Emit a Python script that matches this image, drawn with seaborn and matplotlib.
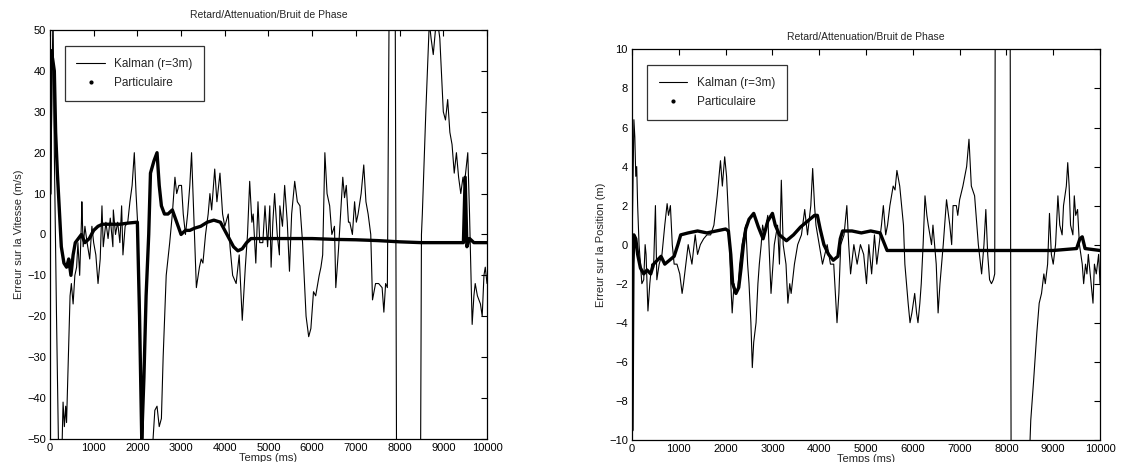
import matplotlib
matplotlib.use("Agg")
import matplotlib.pyplot as plt
import seaborn as sns
import pandas as pd
from matplotlib.lines import Line2D

# ---------------- data: left panel (velocity error, m/s) ----------------
vel_kalman_t = [0, 40, 70, 100, 150, 200, 270, 300, 330, 360, 380, 420, 460, 490, 530, 570, 610, 640, 680, 720, 730, 760,
                800, 850, 910, 960, 1000, 1050, 1100, 1150, 1190, 1220, 1280, 1330, 1380, 1440, 1450, 1500, 1550, 1600,
                1640, 1670, 1720, 1780, 1830, 1880, 1930, 1970, 2010, 2060, 2100, 2200, 2330, 2400, 2450, 2500, 2550,
                2590, 2660, 2740, 2800, 2860, 2900, 2950, 3010, 3050, 3100, 3150, 3200, 3240, 3290, 3350, 3420, 3460,
                3500, 3560, 3620, 3660, 3700, 3770, 3820, 3890, 3950, 4000, 4080, 4120, 4180, 4260, 4330, 4400, 4470,
                4520, 4570, 4620, 4650, 4710, 4760, 4800, 4870, 4920, 4980, 5030, 5060, 5100, 5140, 5200, 5250, 5260,
                5320, 5370, 5430, 5480, 5530, 5600, 5660, 5720, 5780, 5860, 5920, 5970, 6030, 6080, 6160, 6200, 6240,
                6290, 6340, 6400, 6450, 6510, 6540, 6600, 6650, 6700, 6740, 6780, 6830, 6860, 6920, 6970, 7010, 7050,
                7120, 7180, 7230, 7280, 7340, 7380, 7450, 7520, 7600, 7640, 7680, 7720, 7760, 7900, 7930, 8480, 8500,
                8520, 8600, 8680, 8720, 8770, 8820, 8870, 8920, 9000, 9050, 9100, 9150, 9200, 9250, 9300, 9350, 9400,
                9450, 9480, 9560, 9600, 9660, 9700, 9730, 9780, 9850, 9890, 9930, 9960, 10000]
vel_kalman_v = [0, 30, 55, 20, -20, -55, -55, -41, -47, -42, -46, -30, -15, -12, -17, -10, -8, -2, -10, 3, 8, -3,
                2, -2, -6, 2, -2, -5, -12, -6, 7, -3, 3, -1, 4, -3, 6, 0, 3, -2,
                7, -5, 2, 3, 8, 12, 20, 10, 2, -20, -55, -55, -55, -43, -42, -47, -45,
                -30, -10, -2, 5, 14, 10, 12, 12, 5, 0, 5, 12, 20, 5, -13, -8, -6,
                -7, 0, 5, 10, 6, 16, 8, 15, 5, 2, 5, -3, -10, -12, -5, -21, -8,
                0, 13, 3, 5, -7, 8, -2, -2, 7, -3, 7, -8, 3, 10, 0, -5, 7,
                2, 12, 3, -9, 5, 13, 8, 7, -2, -20, -25, -23, -14, -15, -10, -8, -5,
                20, 10, 7, 0, 2, -13, -4, 5, 14, 9, 12, 3, 3, 0, 8, 3, 5,
                10, 17, 8, 5, 0, -16, -12, -12, -13, -19, -12, -13, 55, 55, -55, -55, 0,
                5, 30, 52, 48, 44, 50, 52, 48, 30, 28, 33, 25, 22, 15, 20, 14, 10,
                14, 12, 20, 5, -22, -15, -12, -15, -17, -20, -10, -8, -12]

vel_part_t = [0, 20, 60, 100, 130, 170, 220, 260, 320, 380, 430, 480, 530, 580, 650, 720, 800, 900, 1000, 1100,
              1200, 1400, 1600, 1800, 2000, 2050, 2100, 2150, 2200, 2260, 2300, 2380, 2450, 2500, 2550, 2620, 2700,
              2800, 2900, 3000, 3100, 3200, 3300, 3450, 3600, 3750, 3900, 4000, 4100, 4200, 4300, 4400, 4500, 4600,
              4800, 5000, 5500, 6000, 6500, 7000, 7500, 8000, 8500, 9000, 9460, 9500, 9540, 9600, 9700, 10000]
vel_part_v = [10, 45, 43, 40, 25, 15, 5, -3, -7, -8, -6, -10, -5, -2, -1, 0, -2, -1, 1, 2,
              2.5, 2.5, 2.5, 2.8, 3, -20, -50, -35, -15, 0, 15, 18, 20, 12, 7, 5, 5,
              6, 3, 0, 1, 1, 1.5, 2, 3, 3.5, 3, 1, -1, -3, -4, -3.5, -2, -1,
              -1, -1, -1, -1, -1.2, -1.3, -1.5, -1.8, -2, -2, -2, 14, -3, -1, -2, -2]

# ---------------- data: right panel (position error, m) ----------------
pos_kalman_t = [0, 20, 40, 60, 80, 100, 120, 150, 180, 210, 250, 280, 300, 340, 380, 420, 460, 500, 530, 580, 640,
                700, 750, 780, 820, 860, 900, 960, 1020, 1070, 1100, 1150, 1200, 1280, 1350, 1400, 1460, 1530, 1600,
                1680, 1750, 1820, 1890, 1930, 1980, 2020, 2070, 2110, 2140, 2180, 2210, 2260, 2300, 2350, 2430, 2470,
                2500, 2540, 2570, 2600, 2650, 2690, 2720, 2760, 2790, 2830, 2900, 2970, 3040, 3110, 3150, 3190, 3230,
                3290, 3330, 3370, 3400, 3470, 3540, 3620, 3690, 3750, 3820, 3860, 3900, 3930, 4000, 4070, 4170, 4240,
                4310, 4380, 4420, 4460, 4530, 4590, 4630, 4670, 4740, 4810, 4880, 4950, 5010, 5060, 5120, 5180, 5230,
                5280, 5330, 5370, 5420, 5460, 5510, 5580, 5620, 5660, 5720, 5760, 5800, 5830, 5900, 5940, 5980, 6010,
                6040, 6080, 6110, 6150, 6180, 6220, 6260, 6300, 6330, 6400, 6430, 6500, 6540, 6580, 6650, 6720, 6790,
                6830, 6860, 6930, 6960, 7000, 7070, 7150, 7200, 7250, 7320, 7400, 7470, 7520, 7560, 7600, 7640, 7680,
                7720, 7750, 7760, 8080, 8100, 8490, 8520, 8580, 8650, 8700, 8750, 8800, 8830, 8880, 8920, 8960, 9000,
                9050, 9100, 9140, 9190, 9220, 9280, 9310, 9340, 9370, 9420, 9450, 9480, 9520, 9560, 9620, 9650, 9690,
                9720, 9750, 9810, 9850, 9880, 9920, 9970, 10000]
pos_kalman_v = [0, 3, 6.4, 5.5, 3.5, 4, 2, 0, -1, -2, -1.8, 0, -0.5, -3.4, -2, -1, -1.2, 2, -1.8, -1, -0.5,
                1, 2.1, 1.5, 2, 0, -1, -1, -1.5, -2.5, -2, -1, 0, -1, 0.5, -0.5, 0, 0.3, 0.5,
                0.5, 1, 2.5, 4.3, 3, 4.5, 3.5, 1, -2, -3.5, -2, -2.5, -2.3, -1, 0, 1, -1,
                -2, -4, -6.3, -5, -4, -2, -1, 0, 1, 0.5, 1.5, -2.5, 0, 1, -1, 3.3, 0,
                -1, -3, -2, -2.5, -1, 0, 0.5, 1.8, 0.5, 2, 3.9, 2, 1, 0, -1, 0, -1,
                -1, -4, -2.5, 0, 0.5, 2, 0, -1.5, 0, -1, 0, -0.5, -2, 0, -1.5, 0.5, -1,
                0, 1, 2, 0.5, 1, 2, 3, 2.8, 3.8, 3, 2, 1, -1, -3, -4, -3.5, -3,
                -2.5, -3.5, -4, -3, -2, 0, 2.5, 1.5, 1, 0, 1, -1, -3.5, -2, 0, 2.3, 1,
                0, 2, 2, 1.5, 2.3, 3, 4, 5.4, 3, 2.5, 0, -1.5, 0, 1.8, -0.5, -1.8, -2,
                -1.8, -1.5, 11, 11, -11, -11, -9, -7, -4.5, -3, -2.5, -1.5, -2, -1, 1.6, -0.5, -1,
                0, 2.5, 1, 0.5, 2, 3, 4.2, 3, 1, 0.5, 2.5, 1.5, 1.8, 0, -1, -2, -1,
                -1.5, -0.5, -2, -3, -1, -1.5, -0.5, -2]

pos_part_t = [0, 10, 20, 40, 80, 120, 180, 250, 320, 400, 460, 540, 620, 700, 800, 900, 980, 1040, 1200, 1400,
              1600, 1800, 2000, 2060, 2110, 2150, 2220, 2280, 2330, 2380, 2430, 2500, 2600, 2700, 2800, 2900, 3000,
              3060, 3150, 3300, 3450, 3600, 3750, 3900, 3960, 4020, 4100, 4200, 4300, 4400, 4450, 4500, 4700, 4900,
              5100, 5300, 5400, 5450, 6000, 7000, 8000, 9000, 9500, 9570, 9620, 9680, 10000]
pos_part_v = [-9.5, -5, -1, 0.5, 0.3, -0.5, -1.2, -1.5, -1.3, -1.5, -1, -0.8, -0.6, -1, -0.8, -0.6, 0, 0.5, 0.6, 0.7,
              0.6, 0.7, 0.8, 0.7, -0.5, -2, -2.5, -2.2, -1.2, 0, 0.8, 1.3, 1.6, 0.9, 0.3, 1.2, 1.6,
              1.0, 0.5, 0.2, 0.5, 0.9, 1.2, 1.5, 1.5, 0.8, 0, -0.5, -0.8, -0.6, 0.3, 0.7, 0.7, 0.6,
              0.7, 0.6, 0, -0.3, -0.3, -0.3, -0.3, -0.3, -0.2, 0.3, 0.4, -0.2, -0.3]

x_ticks = [0, 1000, 2000, 3000, 4000, 5000, 6000, 7000, 8000, 9000, 10000]
vel_yticks = [-50, -40, -30, -20, -10, 0, 10, 20, 30, 40, 50]
pos_yticks = [-10, -8, -6, -4, -2, 0, 2, 4, 6, 8, 10]

title_text = "Retard/Attenuation/Bruit de Phase"
xlabel_text = "Temps (ms)"
labels = ["Kalman (r=3m)", "Particulaire"]

# ---------------- drawing ----------------
sns.set_theme(style="white")
plt.rcParams["font.family"] = ["Liberation Sans", "DejaVu Sans"]

fig = plt.figure(figsize=(11.25, 4.62), dpi=100)
ax1 = fig.add_axes([0.0444, 0.050, 0.3885, 0.885])
ax2 = fig.add_axes([0.5618, 0.048, 0.416, 0.845])

panels = [
    (ax1, vel_kalman_t, vel_kalman_v, vel_part_t, vel_part_v, vel_yticks, "Erreur sur la Vitesse (m/s)", 9),
    (ax2, pos_kalman_t, pos_kalman_v, pos_part_t, pos_part_v, pos_yticks, "Erreur sur la Position (m)", 7),
]

for ax, kt, kv, pt, pv, yt, ylab, tpad in panels:
    dk = pd.DataFrame({"t": kt, "v": kv})
    dp = pd.DataFrame({"t": pt, "v": pv})
    sns.lineplot(data=dk, x="t", y="v", ax=ax, color="black", lw=0.8, sort=False, estimator=None)
    sns.lineplot(data=dp, x="t", y="v", ax=ax, color="black", lw=2.4, sort=False, estimator=None)
    ax.set_xlim(0, 10000)
    ax.set_ylim(yt[0], yt[-1])
    ax.set_xticks(x_ticks)
    ax.set_yticks(yt)
    ax.tick_params(direction="in", top=True, right=True, length=4, width=0.8,
                   labelsize=8, colors="black", pad=3)
    for s in ax.spines.values():
        s.set_visible(True)
        s.set_color("black")
        s.set_linewidth(0.9)
    ax.set_title(title_text, fontsize=7.5, pad=tpad)
    ax.set_xlabel(xlabel_text, fontsize=8, labelpad=0)
    ax.set_ylabel(ylab, fontsize=8, labelpad=2)
    handles = [Line2D([0], [0], color="black", lw=0.8),
               Line2D([0], [0], color="black", marker=".", ls="none", markersize=4)]
    leg = ax.legend(handles, labels, loc="upper left", fontsize=8.5, frameon=True, fancybox=False,
                    edgecolor="black", borderpad=1.0, labelspacing=0.6, handlelength=2.4,
                    bbox_to_anchor=(0.02, 0.975))
    leg.get_frame().set_linewidth(0.9)

fig.savefig("out.png", dpi=100, facecolor="white")
